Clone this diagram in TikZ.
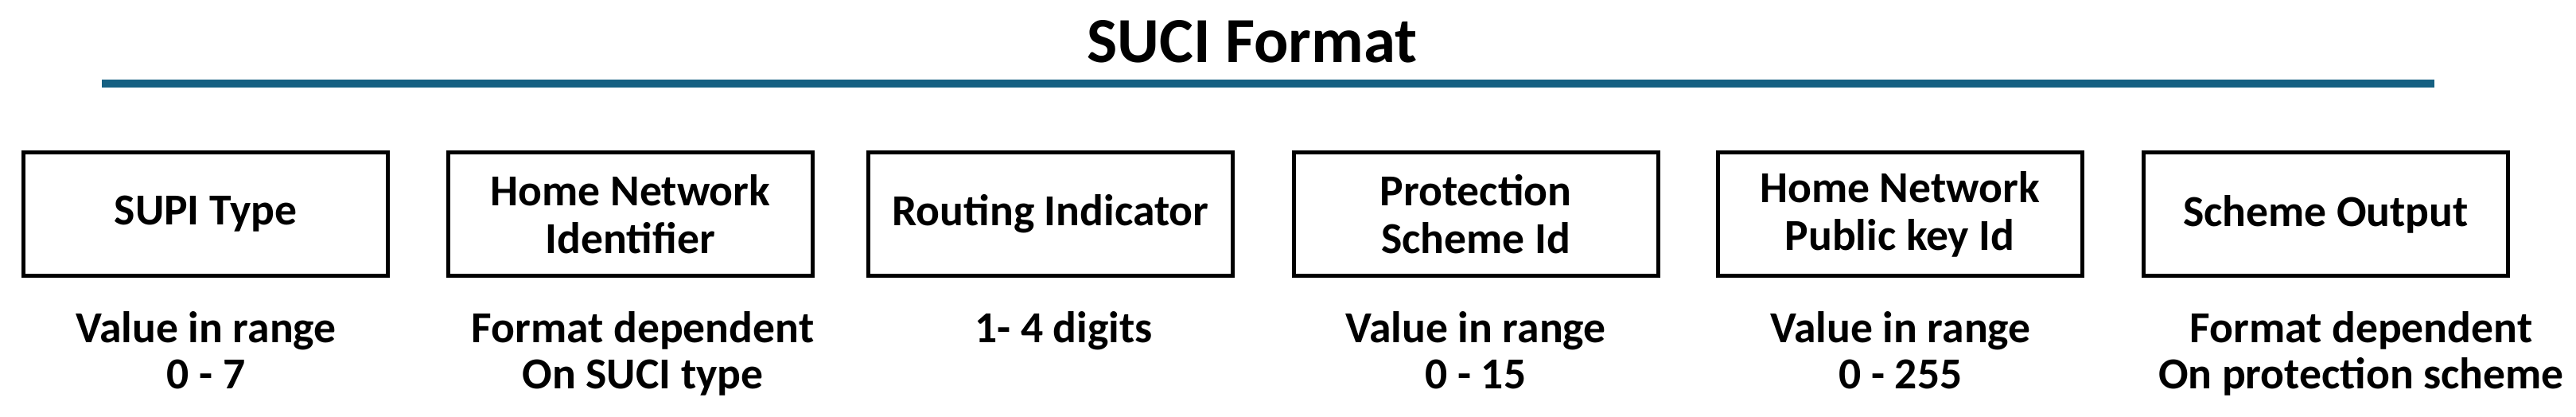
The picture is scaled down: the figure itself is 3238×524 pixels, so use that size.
\documentclass[tikz,border=0pt]{standalone}
\usepackage{fontspec}
\setmainfont{Carlito}
\definecolor{rulecol}{HTML}{156082}
\begin{document}
\begin{tikzpicture}[x=0.25pt,y=-0.25pt,
  fieldbox/.style={draw=black, line width=1.25pt, minimum width=114.5pt,
    minimum height=38.75pt, align=center, inner sep=0pt,
    font=\fontsize{13.9}{15}\selectfont\bfseries},
  vallabel/.style={align=center, inner sep=0pt, anchor=base,
    font=\fontsize{13.9}{14.5}\selectfont\bfseries},
  titletext/.style={inner sep=0pt, anchor=base,
    font=\fontsize{20.2}{22}\selectfont\bfseries}]
\useasboundingbox (0,0) rectangle (3238,524);
\node[titletext] (title) at (1574,79) {SUCI Format};
\coordinate (ruleL) at (128,105);
\coordinate (ruleR) at (3060,105);
\draw[rulecol, line width=2.6pt] (ruleL) -- (ruleR);
\node[fieldbox] (f1) at (258.5,269) {SUPI Type};
\node[fieldbox] (f2) at (792.5,269) {Home Network\\Identifier};
\node[fieldbox] (f3) at (1320.5,269) {Routing Indicator};
\node[fieldbox] (f4) at (1855,269) {Protection\\Scheme Id};
\node[fieldbox] (f5) at (2388,269) {Home Network\\Public key Id};
\node[fieldbox] (f6) at (2923.5,269) {Scheme Output};
\node[vallabel] (v1) at (259,488) {Value in range\\0 - 7};
\node[vallabel] (v2) at (808,488) {Format dependent\\On SUCI type};
\node[vallabel] (v3) at (1337,430) {1- 4 digits};
\node[vallabel] (v4) at (1855,488) {Value in range\\0 - 15};
\node[vallabel] (v5) at (2389,488) {Value in range\\0 - 255};
\node[vallabel] (v6) at (2968,488) {Format dependent\\On protection scheme};
\end{tikzpicture}
\end{document}
